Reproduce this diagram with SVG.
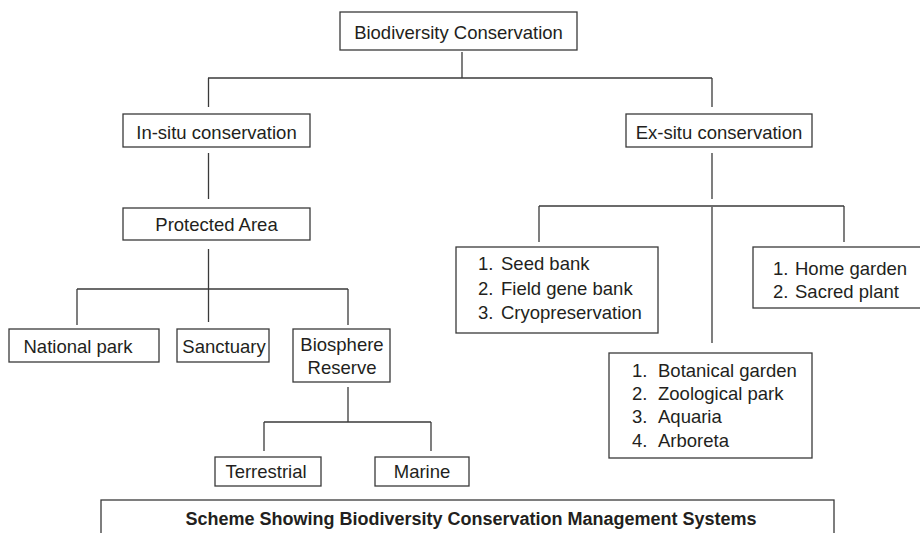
<svg xmlns="http://www.w3.org/2000/svg" width="920" height="533" viewBox="0 0 920 533">
<style>
rect.box{fill:#fff;stroke:#3a3a3a;stroke-width:1.3}
.conn line{stroke:#3a3a3a;stroke-width:1.3}
text{font-family:"Liberation Sans",Arial,sans-serif;font-size:18.5px;fill:#231f20}
text.c{text-anchor:middle}
text.cap{font-weight:bold;font-size:18px;text-anchor:middle}
</style>
<rect width="920" height="533" fill="#fff"/>
<g class="conn" id="connectors">
<line x1="462" y1="52" x2="462" y2="78"/>
<line x1="208" y1="78" x2="712" y2="78"/>
<line x1="208.5" y1="78" x2="208.5" y2="107"/>
<line x1="712" y1="78" x2="712" y2="107"/>
<line x1="208.5" y1="153" x2="208.5" y2="199"/>
<line x1="208.5" y1="249" x2="208.5" y2="322"/>
<line x1="77" y1="289" x2="348" y2="289"/>
<line x1="77" y1="289" x2="77" y2="325"/>
<line x1="348" y1="289" x2="348" y2="325"/>
<line x1="348" y1="387" x2="348" y2="422"/>
<line x1="264" y1="422" x2="431" y2="422"/>
<line x1="264" y1="422" x2="264" y2="451"/>
<line x1="431" y1="422" x2="431" y2="451"/>
<line x1="712" y1="153" x2="712" y2="199"/>
<line x1="539" y1="206" x2="844" y2="206"/>
<line x1="539" y1="206" x2="539" y2="242"/>
<line x1="844" y1="206" x2="844" y2="242"/>
<line x1="712" y1="207" x2="712" y2="343"/>
</g>
<g id="biodiversity-conservation">
<rect class="box" x="340" y="12" width="237" height="38"/>
<text class="c" x="458.5" y="39">Biodiversity Conservation</text>
</g>
<g id="in-situ">
<rect class="box" x="123" y="114" width="187" height="33"/>
<text class="c" x="216.5" y="139">In-situ conservation</text>
</g>
<g id="protected-area">
<rect class="box" x="123" y="208" width="187" height="32"/>
<text class="c" x="216.5" y="231">Protected Area</text>
</g>
<g id="national-park">
<rect class="box" x="9" y="329" width="150" height="33"/>
<text class="c" x="78" y="353">National park</text>
</g>
<g id="sanctuary">
<rect class="box" x="177" y="329" width="92" height="33"/>
<text class="c" x="224" y="353">Sanctuary</text>
</g>
<g id="biosphere-reserve">
<rect class="box" x="293" y="329" width="97" height="53"/>
<text class="c" x="342" y="351">Biosphere</text>
<text class="c" x="342" y="374">Reserve</text>
</g>
<g id="terrestrial">
<rect class="box" x="215" y="457" width="106" height="29"/>
<text class="c" x="266" y="478">Terrestrial</text>
</g>
<g id="marine">
<rect class="box" x="375" y="457" width="94" height="29"/>
<text class="c" x="422" y="478">Marine</text>
</g>
<g id="ex-situ">
<rect class="box" x="626" y="114" width="186" height="33"/>
<text class="c" x="719" y="139">Ex-situ conservation</text>
</g>
<g id="seed-bank">
<rect class="box" x="456" y="247" width="202" height="86"/>
<text x="478" y="270">1.</text><text x="501" y="270">Seed bank</text>
<text x="478" y="295">2.</text><text x="501" y="295">Field gene bank</text>
<text x="478" y="319">3.</text><text x="501" y="319">Cryopreservation</text>
</g>
<g id="home-garden">
<rect class="box" x="753" y="247" width="180" height="61"/>
<text x="773" y="275">1.</text><text x="795" y="275">Home garden</text>
<text x="773" y="298">2.</text><text x="795" y="298">Sacred plant</text>
</g>
<g id="botanical-garden">
<rect class="box" x="609" y="353" width="203" height="105"/>
<text x="632" y="377">1.</text><text x="658" y="377">Botanical garden</text>
<text x="632" y="400">2.</text><text x="658" y="400">Zoological park</text>
<text x="632" y="423">3.</text><text x="658" y="423">Aquaria</text>
<text x="632" y="447">4.</text><text x="658" y="447">Arboreta</text>
</g>
<g id="caption">
<rect class="box" x="101" y="500" width="733" height="45"/>
<text class="cap" x="471" y="525">Scheme Showing Biodiversity Conservation Management Systems</text>
</g>
</svg>
